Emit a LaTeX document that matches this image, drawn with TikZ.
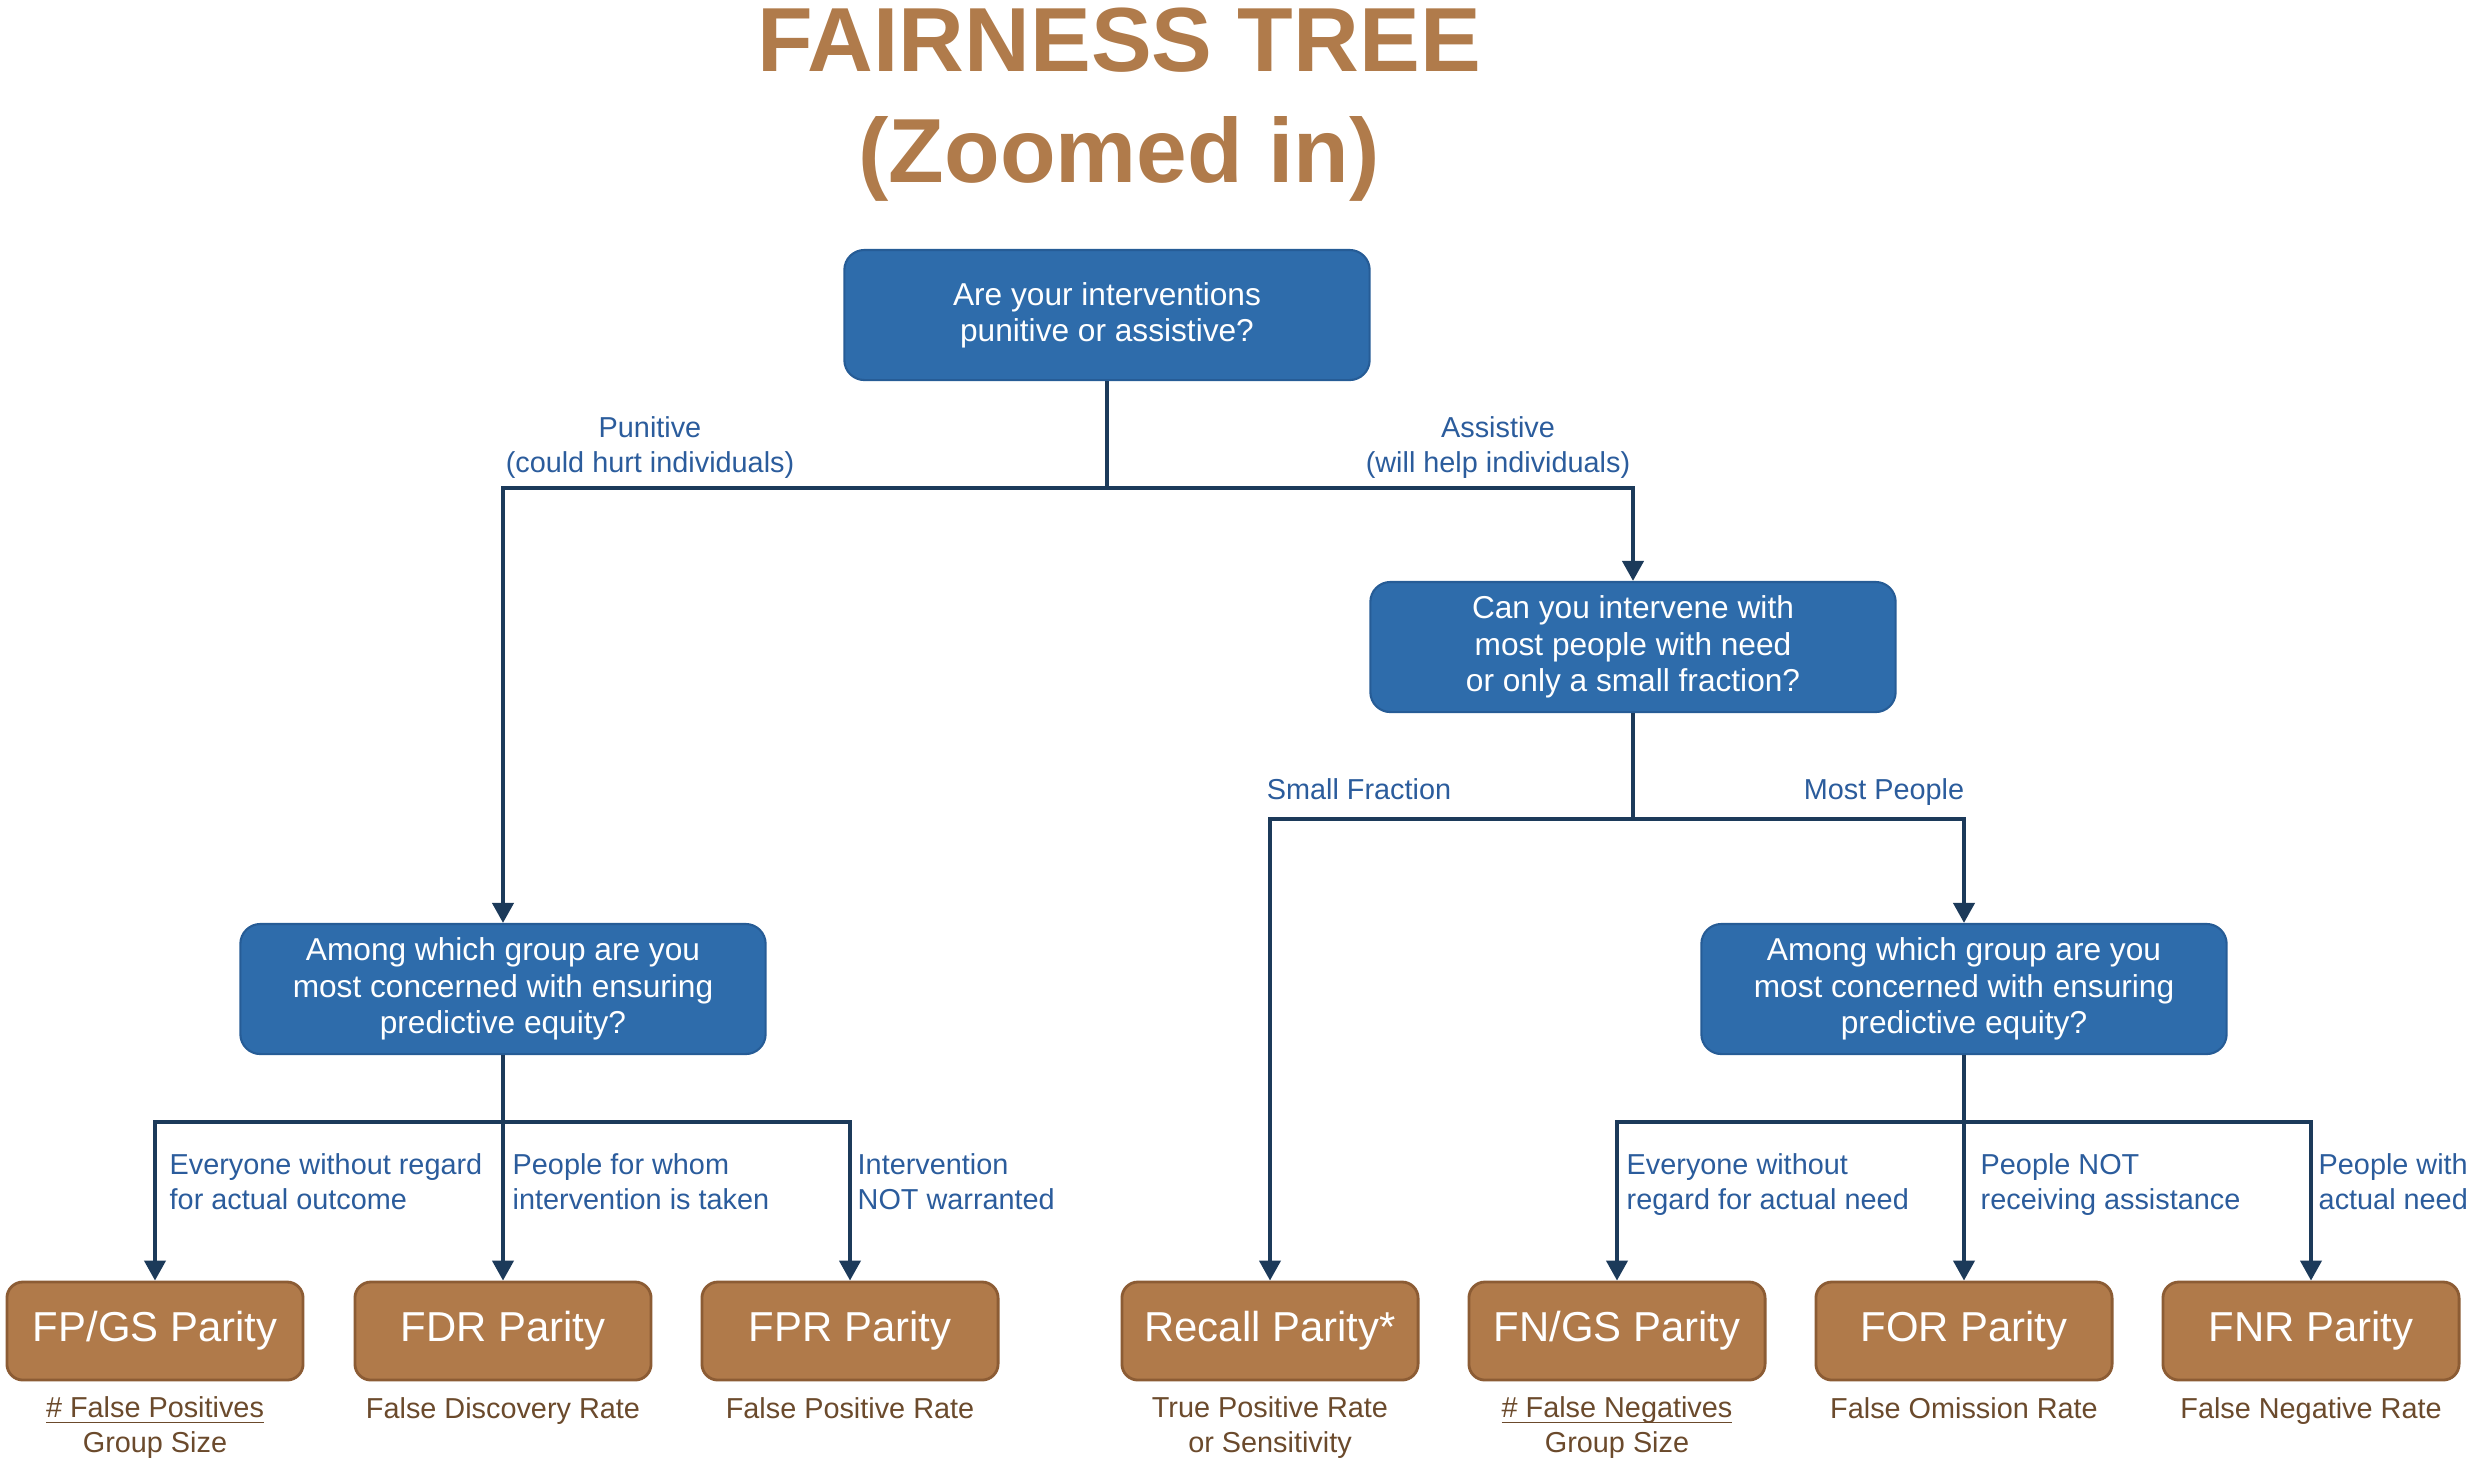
\documentclass[tikz,border=0pt]{standalone}
\usepackage{fontspec}
\setmainfont{Liberation Sans}
\usetikzlibrary{arrows.meta}
\definecolor{qblue}{RGB}{46,108,171}
\definecolor{qborder}{RGB}{38,92,150}
\definecolor{pbrown}{RGB}{176,122,74}
\definecolor{pborder}{RGB}{140,92,52}
\definecolor{tbrown}{RGB}{176,123,75}
\definecolor{lblue}{RGB}{43,92,156}
\definecolor{sbrown}{RGB}{107,74,44}
\definecolor{navy}{RGB}{28,58,90}
\newcommand{\fracline}[1]{\underline{\raisebox{0pt}[\height][0pt]{#1}}}
\begin{document}
\begin{tikzpicture}[x=0.01cm,y=-0.01cm,
  qbox/.style={rounded corners=0.2cm, fill=qblue, draw=qborder, line width=0.6pt, text=white,
    minimum width=5.25cm, minimum height=1.3cm, align=center, inner sep=0pt,
    font=\fontsize{9}{10.3}\selectfont},
  pbox/.style={rounded corners=0.16cm, fill=pbrown, draw=pborder, line width=0.8pt, text=white,
    minimum width=2.96cm, minimum height=0.98cm, inner sep=0pt,
    font=\fontsize{11.9}{14}\selectfont},
  lab/.style={text=lblue, align=left, inner sep=0pt, font=\fontsize{8.2}{10}\selectfont},
  clab/.style={lab, align=center},
  sub/.style={text=sbrown, align=center, inner sep=0pt, font=\fontsize{8.2}{10}\selectfont},
  conn/.style={draw=navy, line width=1.15pt},
  arr/.style={conn, -{Triangle[width=0.21cm,length=0.2cm]}},
  titletext/.style={text=tbrown, align=center, inner sep=0pt, font=\bfseries\fontsize{25.9}{31.6}\selectfont}
]
\useasboundingbox (0,0) rectangle (2478,1468);

\node[titletext, anchor=north] (title) at (1119,7) {FAIRNESS TREE\\(Zoomed in)};

\node[qbox] (top) at (1107,315) {Are your interventions\\punitive or assistive?};
\node[qbox] (can) at (1633,647) {Can you intervene with\\most people with need\\or only a small fraction?};
\node[qbox] (amL) at (503,989) {Among which group are you\\most concerned with ensuring\\predictive equity?};
\node[qbox] (amR) at (1964,989) {Among which group are you\\most concerned with ensuring\\predictive equity?};

\node[pbox] (fpgs) at (155,1331) {FP/GS Parity};
\node[pbox] (fdr) at (503,1331) {FDR Parity};
\node[pbox] (fpr) at (850,1331) {FPR Parity};
\node[pbox] (rec) at (1270,1331) {Recall Parity*};
\node[pbox] (fngs) at (1617,1331) {FN/GS Parity};
\node[pbox] (for) at (1964,1331) {FOR Parity};
\node[pbox] (fnr) at (2311,1331) {FNR Parity};

\coordinate (j1) at (1107,488);
\coordinate (j2) at (1633,819);
\coordinate (j3) at (503,1122);
\coordinate (j4) at (1964,1122);

\draw[conn] (top.south) -- (j1);
\draw[arr] (j1) -| (amL.north);
\draw[arr] (j1) -| (can.north);

\draw[conn] (can.south) -- (j2);
\draw[arr] (j2) -| (rec.north);
\draw[arr] (j2) -| (amR.north);

\draw[conn] (amL.south) -- (j3);
\draw[arr] (j3) -| (fpgs.north);
\draw[arr] (j3) -- (fdr.north);
\draw[arr] (j3) -| (fpr.north);

\draw[conn] (amR.south) -- (j4);
\draw[arr] (j4) -| (fngs.north);
\draw[arr] (j4) -- (for.north);
\draw[arr] (j4) -| (fnr.north);

\node[clab] (lpun) at (650,448) {\strut Punitive\\\strut(could hurt individuals)};
\node[clab] (lass) at (1498,448) {\strut Assistive\\\strut(will help individuals)};
\node[clab] (lsmall) at (1359,792) {\strut Small Fraction};
\node[clab] (lmost) at (1884,792) {\strut Most People};

\node[lab, anchor=west] (l1) at (169,1185) {\strut Everyone without regard\\\strut for actual outcome};
\node[lab, anchor=west] (l2) at (512,1185) {\strut People for whom\\\strut intervention is taken};
\node[lab, anchor=west] (l3) at (857,1185) {\strut Intervention\\\strut NOT warranted};
\node[lab, anchor=west] (l4) at (1626,1185) {\strut Everyone without\\\strut regard for actual need};
\node[lab, anchor=west] (l5) at (1980,1185) {\strut People NOT\\\strut receiving assistance};
\node[lab, anchor=west] (l6) at (2318,1185) {\strut People with\\\strut actual need};

\node[sub] (s1) at (155,1428) {\strut\fracline{\# False Positives}\\\strut Group Size};
\node[sub] (s2) at (503,1411) {\strut False Discovery Rate};
\node[sub] (s3) at (850,1411) {\strut False Positive Rate};
\node[sub] (s4) at (1270,1428) {\strut True Positive Rate\\\strut or Sensitivity};
\node[sub] (s5) at (1617,1428) {\strut\fracline{\# False Negatives}\\\strut Group Size};
\node[sub] (s6) at (1964,1411) {\strut False Omission Rate};
\node[sub] (s7) at (2311,1411) {\strut False Negative Rate};
\end{tikzpicture}
\end{document}
